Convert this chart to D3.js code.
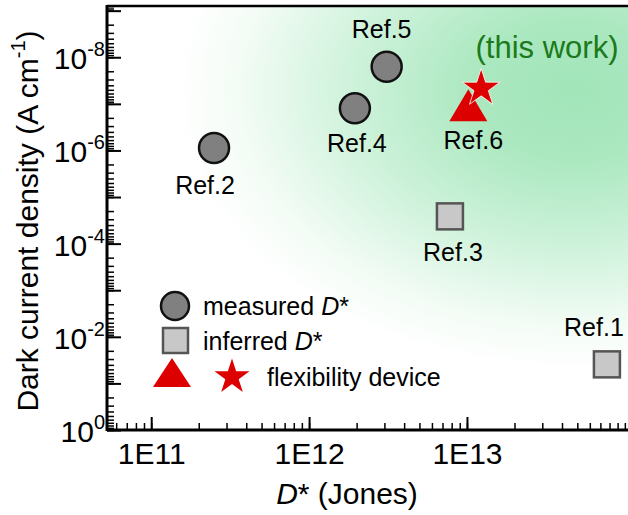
<!DOCTYPE html>
<html>
<head>
<meta charset="utf-8">
<script src="https://cdn.jsdelivr.net/npm/d3@7"></script>
<style>
  body { margin: 0; background: #fff; }
  svg { font-family: "Liberation Sans", Arial, sans-serif; }
</style>
</head>
<body>
<svg width="628" height="515"></svg>
<script>
// measured D* (circles)
var circleNames = ["Ref.2", "Ref.4", "Ref.5"];
var circleD = [2.5e11, 1.95e12, 3.1e12];
var circleJ = [8.9e-7, 1.25e-7, 1.6e-8];

// inferred D* (squares)
var squareNames = ["Ref.3", "Ref.1"];
var squareD = [7.8e12, 7.7e13];
var squareJ = [2.6e-5, 3.9e-2];

// flexibility devices
var triNames = ["Ref.6"];
var triD = [1.02e13];
var triJ = [1.3e-7];
var starD = [1.23e13];
var starJ = [4.2e-8];

var xTickLabels = ["1E11", "1E12", "1E13"];
var yTickExps = [-8, -6, -4, -2, 0];

// label offsets for each annotation (px)
var labelOff = {
  "Ref.2": [-9, 46], "Ref.4": [2, 44], "Ref.5": [-5, -29],
  "Ref.3": [3, 45], "Ref.1": [-13, -28], "Ref.6": [5, 40]
};

var svg = d3.select("svg");
var pl = 107, pr = 628, pt = 6, pb = 430;

var x = d3.scaleLog().domain([Math.pow(10, 10.72), Math.pow(10, 14.02)]).range([pl, pr]);
var y = d3.scaleLog().domain([1, Math.pow(10, -9.1)]).range([pb, pt]);

// green glow background
var defs = svg.append("defs");
var grad = defs.append("radialGradient")
  .attr("id", "glow")
  .attr("gradientUnits", "userSpaceOnUse")
  .attr("cx", 575).attr("cy", 90).attr("r", 400)
  .attr("gradientTransform", "translate(575,90) scale(1,0.7) translate(-575,-90)");
grad.append("stop").attr("offset", 0).attr("stop-color", "#a2e5b9");
grad.append("stop").attr("offset", 0.25).attr("stop-color", "#abe8c0");
grad.append("stop").attr("offset", 0.55).attr("stop-color", "#cdf2da");
grad.append("stop").attr("offset", 0.85).attr("stop-color", "#f4fcf6");
grad.append("stop").attr("offset", 1).attr("stop-color", "#ffffff");

svg.append("rect")
  .attr("x", pl).attr("y", pt)
  .attr("width", pr - pl).attr("height", pb - pt)
  .attr("fill", "url(#glow)");

// minor tick values
var xMinor = [], yMinor = [];
for (var e = 10; e <= 14; e++) {
  for (var m = 1; m < 10; m++) {
    var v = m * Math.pow(10, e);
    if (v >= x.domain()[0] && v <= x.domain()[1]) xMinor.push(v);
  }
}
for (var e2 = -10; e2 <= 0; e2++) {
  for (var m2 = 1; m2 < 10; m2++) {
    var v2 = m2 * Math.pow(10, e2);
    if (v2 <= 1 && v2 >= y.domain()[1]) yMinor.push(v2);
  }
}

svg.append("g")
  .attr("transform", "translate(0," + pb + ")")
  .call(d3.axisBottom(x).tickValues(xMinor).tickSize(-7).tickFormat(""))
  .call(g => g.select(".domain").remove())
  .selectAll("line").attr("stroke-width", 1.5);

svg.append("g")
  .attr("transform", "translate(0," + pb + ")")
  .call(d3.axisBottom(x).tickValues([1e11, 1e12, 1e13]).tickSize(-13).tickPadding(13)
    .tickFormat((d, i) => xTickLabels[i]))
  .call(g => g.select(".domain").remove())
  .call(g => g.selectAll("line").attr("stroke-width", 2))
  .call(g => g.selectAll("text").attr("font-size", 30).attr("fill", "#000"));

svg.append("g")
  .attr("transform", "translate(" + pl + ",0)")
  .call(d3.axisLeft(y).tickValues(yMinor).tickSize(-7).tickFormat(""))
  .call(g => g.select(".domain").remove())
  .selectAll("line").attr("stroke-width", 1.5);

var yMajor = d3.range(-9, 1).map(p => Math.pow(10, p));
svg.append("g")
  .attr("transform", "translate(" + pl + ",0)")
  .call(d3.axisLeft(y).tickValues(yMajor).tickSize(-14).tickFormat(""))
  .call(g => g.select(".domain").remove())
  .selectAll("line").attr("stroke-width", 2);

// y tick labels 10^n
var yLab = svg.append("g");
yTickExps.forEach(function (p) {
  var t = yLab.append("text")
    .attr("x", pl - 2)
    .attr("y", y(Math.pow(10, p)) + 12)
    .attr("text-anchor", "end")
    .attr("font-size", 30);
  t.append("tspan").text("10");
  t.append("tspan").attr("font-size", 20).attr("dy", -13).text(p === 0 ? "0" : "-" + (-p));
});

// frame
svg.append("line").attr("x1", pl).attr("x2", pl).attr("y1", pt - 1).attr("y2", pb + 1)
  .attr("stroke", "#000").attr("stroke-width", 3);
svg.append("line").attr("x1", pl).attr("x2", pr).attr("y1", pb).attr("y2", pb)
  .attr("stroke", "#000").attr("stroke-width", 3);
svg.append("line").attr("x1", pl).attr("x2", pr).attr("y1", pt).attr("y2", pt)
  .attr("stroke", "#000").attr("stroke-width", 2.5);

// axis titles
svg.append("text")
  .attr("transform", "translate(38,221) rotate(-90)")
  .attr("text-anchor", "middle")
  .attr("font-size", 30)
  .call(t => {
    t.append("tspan").text("Dark current density (A cm");
    t.append("tspan").attr("font-size", 20).attr("dy", -13).text("-1");
    t.append("tspan").attr("dy", 13).text(")");
  });

svg.append("text")
  .attr("x", 347).attr("y", 504)
  .attr("text-anchor", "middle")
  .attr("font-size", 30)
  .call(t => {
    t.append("tspan").attr("font-style", "italic").text("D");
    t.append("tspan").text("* (Jones)");
  });

// marks
var marks = svg.append("g");

marks.selectAll("circle.pt")
  .data(circleD)
  .join("circle")
  .attr("class", "pt")
  .attr("cx", d => x(d))
  .attr("cy", (d, i) => y(circleJ[i]))
  .attr("r", 15)
  .attr("fill", "#808080")
  .attr("stroke", "#111")
  .attr("stroke-width", 2.5);

marks.selectAll("rect.pt")
  .data(squareD)
  .join("rect")
  .attr("class", "pt")
  .attr("x", d => x(d) - 13)
  .attr("y", (d, i) => y(squareJ[i]) - 13)
  .attr("width", 26).attr("height", 26)
  .attr("fill", "#c8c8c8")
  .attr("stroke", "#555")
  .attr("stroke-width", 2.5);

var triPath = "M0,-20 L19,12 L-19,12 Z";
marks.selectAll("path.tri")
  .data(triD)
  .join("path")
  .attr("class", "tri")
  .attr("transform", (d, i) => "translate(" + x(d) + "," + y(triJ[i]) + ")")
  .attr("d", triPath)
  .attr("fill", "#dd0000");

var starPath = d3.symbol(d3.symbolStar, 440)();
marks.selectAll("path.star")
  .data(starD)
  .join("path")
  .attr("class", "star")
  .attr("transform", (d, i) => "translate(" + x(d) + "," + (y(starJ[i]) + 2) + ")")
  .attr("d", starPath)
  .attr("fill", "#dd0000")
  .attr("stroke", "#fff")
  .attr("stroke-width", 0.8);

// reference labels
function addLabel(name, px, py) {
  var o = labelOff[name];
  svg.append("text")
    .attr("x", px + o[0]).attr("y", py + o[1])
    .attr("text-anchor", "middle")
    .attr("font-size", 25)
    .text(name);
}
circleNames.forEach((n, i) => addLabel(n, x(circleD[i]), y(circleJ[i])));
squareNames.forEach((n, i) => addLabel(n, x(squareD[i]), y(squareJ[i])));
triNames.forEach((n, i) => addLabel(n, x(triD[i]), y(triJ[i])));

svg.append("text")
  .attr("x", 547).attr("y", 58)
  .attr("text-anchor", "middle")
  .attr("font-size", 31)
  .attr("fill", "#1b7a1b")
  .text("(this work)");

// legend
var lg = svg.append("g");
lg.append("circle").attr("cx", 175).attr("cy", 306).attr("r", 14)
  .attr("fill", "#808080").attr("stroke", "#111").attr("stroke-width", 2.5);
lg.append("rect").attr("x", 163).attr("y", 328).attr("width", 25).attr("height", 25)
  .attr("fill", "#c8c8c8").attr("stroke", "#555").attr("stroke-width", 2.5);
lg.append("path").attr("transform", "translate(172,375)").attr("d", "M0,-17 L19,12 L-19,12 Z")
  .attr("fill", "#dd0000");
lg.append("path").attr("transform", "translate(232,377)").attr("d", d3.symbol(d3.symbolStar, 380)())
  .attr("fill", "#dd0000");

function legendText(tx, ty, main, italic, rest) {
  var t = lg.append("text").attr("x", tx).attr("y", ty).attr("font-size", 25);
  t.append("tspan").text(main);
  if (italic) {
    t.append("tspan").attr("font-style", "italic").text(italic);
    t.append("tspan").text(rest);
  }
}
legendText(203, 315, "measured ", "D", "*");
legendText(203, 350, "inferred ", "D", "*");
legendText(267, 386, "flexibility device");
</script>
</body>
</html>
